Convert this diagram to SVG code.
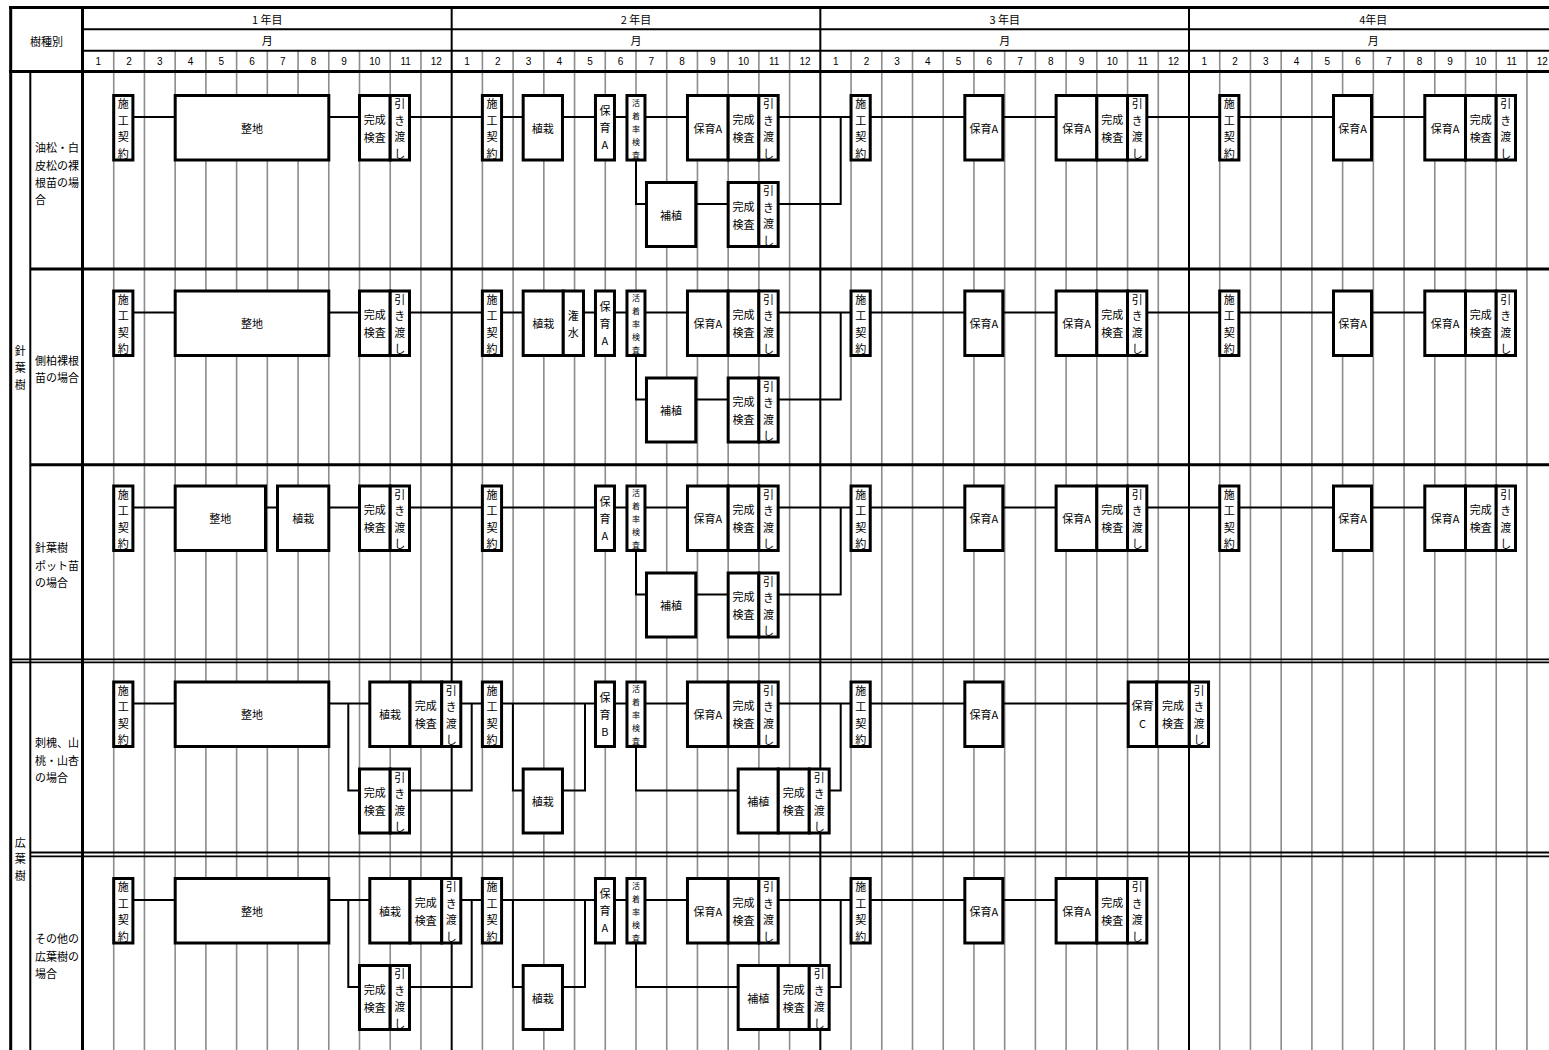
<svg xmlns="http://www.w3.org/2000/svg" width="1549" height="1050" viewBox="0 0 1549 1050">
<style>
.g{fill:none;stroke:#8c8c8c;stroke-width:1.6}
.k{fill:none;stroke:#000}
.b{fill:#fff;stroke:#000;stroke-width:3}
.c path{fill:none;stroke:#000;stroke-width:2}
text{font-family:"Noto Sans CJK JP","Noto Sans CJK SC",sans-serif;font-size:11px;fill:#000;text-anchor:middle;dominant-baseline:central}
.n{font-family:"Liberation Sans",Arial,sans-serif;font-size:10px}
.s{font-size:8px}
.l{text-anchor:start}
</style>
<rect width="1549" height="1050" fill="#fff"/>
<g id="grid">
<path class="g" d="M113.72 51V1050M144.44 51V1050M175.17 51V1050M205.89 51V1050M236.61 51V1050M267.33 51V1050M298.06 51V1050M328.78 51V1050M359.5 51V1050M390.22 51V1050M420.94 51V1050M482.39 51V1050M513.11 51V1050M543.84 51V1050M574.56 51V1050M605.28 51V1050M636 51V1050M666.73 51V1050M697.45 51V1050M728.17 51V1050M758.89 51V1050M789.61 51V1050M851.06 51V1050M881.78 51V1050M912.51 51V1050M943.23 51V1050M973.95 51V1050M1004.67 51V1050M1035.4 51V1050M1066.12 51V1050M1096.84 51V1050M1127.56 51V1050M1158.28 51V1050M1219.73 51V1050M1250.45 51V1050M1281.18 51V1050M1311.9 51V1050M1342.62 51V1050M1373.34 51V1050M1404.07 51V1050M1434.79 51V1050M1465.51 51V1050M1496.23 51V1050M1526.95 51V1050"/>
<path class="k" stroke-width="2" d="M451.67 7V1050M820.33 7V1050M1189 7V1050"/>
</g>
<g id="table">
<path class="k" stroke-width="3" d="M9 7.5H1549M10.7 6V1050M82.5 6V1050M9 71.5H1549M30 269H1549M30 464.8H1549"/>
<path class="k" stroke-width="2" d="M83 29.3H1549M83 50.7H1549M30.3 71.5V1050"/>
<path class="k" stroke-width="1.8" d="M10 659.3H1549M10 662.3H1549M30 852.5H1549M30 856.3H1549"/>
</g>
<g id="header">
<text x="46.5" y="41">樹種別</text>
<text x="267.3" y="18.5">1 年目</text>
<text x="636" y="18.5">2 年目</text>
<text x="1004.7" y="18.5">3 年目</text>
<text x="1373.3" y="18.5">4年目</text>
<text x="267.3" y="40">月</text>
<text x="636" y="40">月</text>
<text x="1004.7" y="40">月</text>
<text x="1373.3" y="40">月</text>
<g class="n">
<text class="n" x="98.36" y="61">1</text><text class="n" x="129.08" y="61">2</text><text class="n" x="159.81" y="61">3</text><text class="n" x="190.53" y="61">4</text><text class="n" x="221.25" y="61">5</text><text class="n" x="251.97" y="61">6</text><text class="n" x="282.69" y="61">7</text><text class="n" x="313.42" y="61">8</text><text class="n" x="344.14" y="61">9</text><text class="n" x="374.86" y="61">10</text><text class="n" x="405.58" y="61">11</text><text class="n" x="436.31" y="61">12</text>
<text class="n" x="467.03" y="61">1</text><text class="n" x="497.75" y="61">2</text><text class="n" x="528.47" y="61">3</text><text class="n" x="559.19" y="61">4</text><text class="n" x="589.92" y="61">5</text><text class="n" x="620.64" y="61">6</text><text class="n" x="651.36" y="61">7</text><text class="n" x="682.08" y="61">8</text><text class="n" x="712.81" y="61">9</text><text class="n" x="743.53" y="61">10</text><text class="n" x="774.25" y="61">11</text><text class="n" x="804.97" y="61">12</text>
<text class="n" x="835.69" y="61">1</text><text class="n" x="866.42" y="61">2</text><text class="n" x="897.14" y="61">3</text><text class="n" x="927.86" y="61">4</text><text class="n" x="958.58" y="61">5</text><text class="n" x="989.31" y="61">6</text><text class="n" x="1020.03" y="61">7</text><text class="n" x="1050.75" y="61">8</text><text class="n" x="1081.47" y="61">9</text><text class="n" x="1112.19" y="61">10</text><text class="n" x="1142.92" y="61">11</text><text class="n" x="1173.64" y="61">12</text>
<text class="n" x="1204.36" y="61">1</text><text class="n" x="1235.08" y="61">2</text><text class="n" x="1265.81" y="61">3</text><text class="n" x="1296.53" y="61">4</text><text class="n" x="1327.25" y="61">5</text><text class="n" x="1357.97" y="61">6</text><text class="n" x="1388.69" y="61">7</text><text class="n" x="1419.42" y="61">8</text><text class="n" x="1450.14" y="61">9</text><text class="n" x="1480.86" y="61">10</text><text class="n" x="1511.58" y="61">11</text><text class="n" x="1542.31" y="61">12</text>
</g>
</g>
<g id="row-labels">
<text><tspan x="20.3" y="349.5">針</tspan><tspan x="20.3" y="366.5">葉</tspan><tspan x="20.3" y="383.5">樹</tspan></text>
<text><tspan x="20.3" y="841.5">広</tspan><tspan x="20.3" y="858.3">葉</tspan><tspan x="20.3" y="875">樹</tspan></text>
<text class="l"><tspan x="35" y="147">油松・白</tspan><tspan x="35" y="164.5">皮松の裸</tspan><tspan x="35" y="182">根苗の場</tspan><tspan x="35" y="199">合</tspan></text>
<text class="l"><tspan x="35" y="360">側柏裸根</tspan><tspan x="35" y="377.3">苗の場合</tspan></text>
<text class="l"><tspan x="35" y="547.3">針葉樹</tspan><tspan x="35" y="564.7">ポット苗</tspan><tspan x="35" y="582">の場合</tspan></text>
<text class="l"><tspan x="35" y="741.7">刺槐、山</tspan><tspan x="35" y="759.5">桃・山杏</tspan><tspan x="35" y="776.5">の場合</tspan></text>
<text class="l"><tspan x="35" y="938.3">その他の</tspan><tspan x="35" y="955.5">広葉樹の</tspan><tspan x="35" y="972.5">場合</tspan></text>
</g>
<g id="connectors" class="c">
<path d="M133 117H1514"/>
<path d="M636 160V204H840.7V117"/>
<path d="M133 312.5H1514"/>
<path d="M636 355.5V399.5H840.7V312.5"/>
<path d="M133 507.5H1514"/>
<path d="M636 550.5V594.5H840.7V507.5"/>
<path d="M133 703.5H1130"/>
<path d="M348.3 703.5V790.5H471.7V703.5"/>
<path d="M512.9 703.5V790.5H585V703.5"/>
<path d="M636 746.5V790.5H840.7V703.5"/>
<path d="M133 900H1145"/>
<path d="M348.3 900V987H471.7V900"/>
<path d="M512.9 900V987H585V900"/>
<path d="M636 943V987H840.7V900"/>
</g>

<g id="row1" transform="translate(0,117)">
<g transform="translate(83,0)">
<g id="r1-y1-sekou"><rect class="b" x="30.7" y="-21.5" width="19.2" height="64.5"/><text><tspan x="40.3" y="-14">施</tspan><tspan x="40.3" y="2.5">工</tspan><tspan x="40.3" y="19">契</tspan><tspan x="40.3" y="35.5">約</tspan></text></g>
<g id="r1-y1-seichi"><rect class="b" x="92.2" y="-21.5" width="153.6" height="64.5"/><text x="169" y="10.75">整地</text></g>
<g id="r1-y1-kensa"><rect class="b" x="276.5" y="-21.5" width="30.7" height="64.5"/><text><tspan x="291.85" y="1.75">完成</tspan><tspan x="291.85" y="19.75">検査</tspan></text></g>
<g id="r1-y1-hiki"><rect class="b" x="307.2" y="-21.5" width="19.3" height="64.5"/><text><tspan x="316.85" y="-14">引</tspan><tspan x="316.85" y="2.5">き</tspan><tspan x="316.85" y="19">渡</tspan><tspan x="316.85" y="35.5">し</tspan></text></g>
</g>
<g transform="translate(451.67,0)">
<g id="r1-y2-sekou"><rect class="b" x="30.7" y="-21.5" width="19.2" height="64.5"/><text><tspan x="40.3" y="-14">施</tspan><tspan x="40.3" y="2.5">工</tspan><tspan x="40.3" y="19">契</tspan><tspan x="40.3" y="35.5">約</tspan></text></g>
<g id="r1-y2-shokusai"><rect class="b" x="71.5" y="-21.5" width="39.3" height="64.5"/><text x="91.15" y="10.75">植栽</text></g>
<g id="r1-y2-hoiku1"><rect class="b" x="143.8" y="-21.5" width="19" height="64.5"/><text><tspan x="153.3" y="-7">保</tspan><tspan x="153.3" y="10">育</tspan><tspan x="153.3" y="27">A</tspan></text></g>
<g id="r1-y2-katchaku"><rect class="b" x="175.3" y="-21.5" width="18" height="64.5"/><text class="s"><tspan x="184.3" y="-15.25">活</tspan><tspan x="184.3" y="-2.25">着</tspan><tspan x="184.3" y="10.75">率</tspan><tspan x="184.3" y="23.75">検</tspan><tspan x="184.3" y="36.75">査</tspan></text></g>
<g id="r1-y2-hoiku2"><rect class="b" x="235.8" y="-21.5" width="40.7" height="64.5"/><text x="256.15" y="10.75">保育A</text></g>
<g id="r1-y2-kensa"><rect class="b" x="276.5" y="-21.5" width="30.7" height="64.5"/><text><tspan x="291.85" y="1.75">完成</tspan><tspan x="291.85" y="19.75">検査</tspan></text></g>
<g id="r1-y2-hiki"><rect class="b" x="307.2" y="-21.5" width="19.3" height="64.5"/><text><tspan x="316.85" y="-14">引</tspan><tspan x="316.85" y="2.5">き</tspan><tspan x="316.85" y="19">渡</tspan><tspan x="316.85" y="35.5">し</tspan></text></g>
<g id="r1-y2-hoshoku"><rect class="b" x="194.8" y="65.5" width="49.3" height="64"/><text x="219.45" y="97.5">補植</text></g>
<g id="r1-y2-kensa2"><rect class="b" x="276.5" y="65.5" width="30.7" height="64"/><text><tspan x="291.85" y="88.5">完成</tspan><tspan x="291.85" y="106.5">検査</tspan></text></g>
<g id="r1-y2-hiki2"><rect class="b" x="307.2" y="65.5" width="19.3" height="64"/><text><tspan x="316.85" y="73">引</tspan><tspan x="316.85" y="89.5">き</tspan><tspan x="316.85" y="106">渡</tspan><tspan x="316.85" y="122.5">し</tspan></text></g>
</g>
<g transform="translate(820.33,0)">
<g id="r1-y3-sekou"><rect class="b" x="30.7" y="-21.5" width="19.2" height="64.5"/><text><tspan x="40.3" y="-14">施</tspan><tspan x="40.3" y="2.5">工</tspan><tspan x="40.3" y="19">契</tspan><tspan x="40.3" y="35.5">約</tspan></text></g>
<g id="r1-y3-hoiku1"><rect class="b" x="144.5" y="-21.5" width="38" height="64.5"/><text x="163.5" y="10.75">保育A</text></g>
<g id="r1-y3-hoiku2"><rect class="b" x="235.8" y="-21.5" width="40.7" height="64.5"/><text x="256.15" y="10.75">保育A</text></g>
<g id="r1-y3-kensa"><rect class="b" x="276.5" y="-21.5" width="30.7" height="64.5"/><text><tspan x="291.85" y="1.75">完成</tspan><tspan x="291.85" y="19.75">検査</tspan></text></g>
<g id="r1-y3-hiki"><rect class="b" x="307.2" y="-21.5" width="19.3" height="64.5"/><text><tspan x="316.85" y="-14">引</tspan><tspan x="316.85" y="2.5">き</tspan><tspan x="316.85" y="19">渡</tspan><tspan x="316.85" y="35.5">し</tspan></text></g>
</g>
<g transform="translate(1189,0)">
<g id="r1-y4-sekou"><rect class="b" x="30.7" y="-21.5" width="19.2" height="64.5"/><text><tspan x="40.3" y="-14">施</tspan><tspan x="40.3" y="2.5">工</tspan><tspan x="40.3" y="19">契</tspan><tspan x="40.3" y="35.5">約</tspan></text></g>
<g id="r1-y4-hoiku1"><rect class="b" x="144.5" y="-21.5" width="38" height="64.5"/><text x="163.5" y="10.75">保育A</text></g>
<g id="r1-y4-hoiku2"><rect class="b" x="235.8" y="-21.5" width="40.7" height="64.5"/><text x="256.15" y="10.75">保育A</text></g>
<g id="r1-y4-kensa"><rect class="b" x="276.5" y="-21.5" width="30.7" height="64.5"/><text><tspan x="291.85" y="1.75">完成</tspan><tspan x="291.85" y="19.75">検査</tspan></text></g>
<g id="r1-y4-hiki"><rect class="b" x="307.2" y="-21.5" width="19.3" height="64.5"/><text><tspan x="316.85" y="-14">引</tspan><tspan x="316.85" y="2.5">き</tspan><tspan x="316.85" y="19">渡</tspan><tspan x="316.85" y="35.5">し</tspan></text></g>
</g>
</g>

<g id="row2" transform="translate(0,312.5)">
<g transform="translate(83,0)">
<g id="r2-y1-sekou"><rect class="b" x="30.7" y="-21.5" width="19.2" height="64.5"/><text><tspan x="40.3" y="-14">施</tspan><tspan x="40.3" y="2.5">工</tspan><tspan x="40.3" y="19">契</tspan><tspan x="40.3" y="35.5">約</tspan></text></g>
<g id="r2-y1-seichi"><rect class="b" x="92.2" y="-21.5" width="153.6" height="64.5"/><text x="169" y="10.75">整地</text></g>
<g id="r2-y1-kensa"><rect class="b" x="276.5" y="-21.5" width="30.7" height="64.5"/><text><tspan x="291.85" y="1.75">完成</tspan><tspan x="291.85" y="19.75">検査</tspan></text></g>
<g id="r2-y1-hiki"><rect class="b" x="307.2" y="-21.5" width="19.3" height="64.5"/><text><tspan x="316.85" y="-14">引</tspan><tspan x="316.85" y="2.5">き</tspan><tspan x="316.85" y="19">渡</tspan><tspan x="316.85" y="35.5">し</tspan></text></g>
</g>
<g transform="translate(451.67,0)">
<g id="r2-y2-sekou"><rect class="b" x="30.7" y="-21.5" width="19.2" height="64.5"/><text><tspan x="40.3" y="-14">施</tspan><tspan x="40.3" y="2.5">工</tspan><tspan x="40.3" y="19">契</tspan><tspan x="40.3" y="35.5">約</tspan></text></g>
<g id="r2-y2-shokusai"><rect class="b" x="71.5" y="-21.5" width="40.1" height="64.5"/><text x="91.55" y="10.75">植栽</text></g>
<g id="r2-y2-kansui"><rect class="b" x="111.6" y="-21.5" width="20.2" height="64.5"/><text><tspan x="121.7" y="2.5">潅</tspan><tspan x="121.7" y="19.5">水</tspan></text></g>
<g id="r2-y2-hoiku1"><rect class="b" x="143.8" y="-21.5" width="19" height="64.5"/><text><tspan x="153.3" y="-7">保</tspan><tspan x="153.3" y="10">育</tspan><tspan x="153.3" y="27">A</tspan></text></g>
<g id="r2-y2-katchaku"><rect class="b" x="175.3" y="-21.5" width="18" height="64.5"/><text class="s"><tspan x="184.3" y="-15.25">活</tspan><tspan x="184.3" y="-2.25">着</tspan><tspan x="184.3" y="10.75">率</tspan><tspan x="184.3" y="23.75">検</tspan><tspan x="184.3" y="36.75">査</tspan></text></g>
<g id="r2-y2-hoiku2"><rect class="b" x="235.8" y="-21.5" width="40.7" height="64.5"/><text x="256.15" y="10.75">保育A</text></g>
<g id="r2-y2-kensa"><rect class="b" x="276.5" y="-21.5" width="30.7" height="64.5"/><text><tspan x="291.85" y="1.75">完成</tspan><tspan x="291.85" y="19.75">検査</tspan></text></g>
<g id="r2-y2-hiki"><rect class="b" x="307.2" y="-21.5" width="19.3" height="64.5"/><text><tspan x="316.85" y="-14">引</tspan><tspan x="316.85" y="2.5">き</tspan><tspan x="316.85" y="19">渡</tspan><tspan x="316.85" y="35.5">し</tspan></text></g>
<g id="r2-y2-hoshoku"><rect class="b" x="194.8" y="65.5" width="49.3" height="64"/><text x="219.45" y="97.5">補植</text></g>
<g id="r2-y2-kensa2"><rect class="b" x="276.5" y="65.5" width="30.7" height="64"/><text><tspan x="291.85" y="88.5">完成</tspan><tspan x="291.85" y="106.5">検査</tspan></text></g>
<g id="r2-y2-hiki2"><rect class="b" x="307.2" y="65.5" width="19.3" height="64"/><text><tspan x="316.85" y="73">引</tspan><tspan x="316.85" y="89.5">き</tspan><tspan x="316.85" y="106">渡</tspan><tspan x="316.85" y="122.5">し</tspan></text></g>
</g>
<g transform="translate(820.33,0)">
<g id="r2-y3-sekou"><rect class="b" x="30.7" y="-21.5" width="19.2" height="64.5"/><text><tspan x="40.3" y="-14">施</tspan><tspan x="40.3" y="2.5">工</tspan><tspan x="40.3" y="19">契</tspan><tspan x="40.3" y="35.5">約</tspan></text></g>
<g id="r2-y3-hoiku1"><rect class="b" x="144.5" y="-21.5" width="38" height="64.5"/><text x="163.5" y="10.75">保育A</text></g>
<g id="r2-y3-hoiku2"><rect class="b" x="235.8" y="-21.5" width="40.7" height="64.5"/><text x="256.15" y="10.75">保育A</text></g>
<g id="r2-y3-kensa"><rect class="b" x="276.5" y="-21.5" width="30.7" height="64.5"/><text><tspan x="291.85" y="1.75">完成</tspan><tspan x="291.85" y="19.75">検査</tspan></text></g>
<g id="r2-y3-hiki"><rect class="b" x="307.2" y="-21.5" width="19.3" height="64.5"/><text><tspan x="316.85" y="-14">引</tspan><tspan x="316.85" y="2.5">き</tspan><tspan x="316.85" y="19">渡</tspan><tspan x="316.85" y="35.5">し</tspan></text></g>
</g>
<g transform="translate(1189,0)">
<g id="r2-y4-sekou"><rect class="b" x="30.7" y="-21.5" width="19.2" height="64.5"/><text><tspan x="40.3" y="-14">施</tspan><tspan x="40.3" y="2.5">工</tspan><tspan x="40.3" y="19">契</tspan><tspan x="40.3" y="35.5">約</tspan></text></g>
<g id="r2-y4-hoiku1"><rect class="b" x="144.5" y="-21.5" width="38" height="64.5"/><text x="163.5" y="10.75">保育A</text></g>
<g id="r2-y4-hoiku2"><rect class="b" x="235.8" y="-21.5" width="40.7" height="64.5"/><text x="256.15" y="10.75">保育A</text></g>
<g id="r2-y4-kensa"><rect class="b" x="276.5" y="-21.5" width="30.7" height="64.5"/><text><tspan x="291.85" y="1.75">完成</tspan><tspan x="291.85" y="19.75">検査</tspan></text></g>
<g id="r2-y4-hiki"><rect class="b" x="307.2" y="-21.5" width="19.3" height="64.5"/><text><tspan x="316.85" y="-14">引</tspan><tspan x="316.85" y="2.5">き</tspan><tspan x="316.85" y="19">渡</tspan><tspan x="316.85" y="35.5">し</tspan></text></g>
</g>
</g>

<g id="row3" transform="translate(0,507.5)">
<g transform="translate(83,0)">
<g id="r3-y1-sekou"><rect class="b" x="30.7" y="-21.5" width="19.2" height="64.5"/><text><tspan x="40.3" y="-14">施</tspan><tspan x="40.3" y="2.5">工</tspan><tspan x="40.3" y="19">契</tspan><tspan x="40.3" y="35.5">約</tspan></text></g>
<g id="r3-y1-seichi"><rect class="b" x="92.2" y="-21.5" width="90.3" height="64.5"/><text x="137.35" y="10.75">整地</text></g>
<g id="r3-y1-shokusai"><rect class="b" x="194.5" y="-21.5" width="51.3" height="64.5"/><text x="220.15" y="10.75">植栽</text></g>
<g id="r3-y1-kensa"><rect class="b" x="276.5" y="-21.5" width="30.7" height="64.5"/><text><tspan x="291.85" y="1.75">完成</tspan><tspan x="291.85" y="19.75">検査</tspan></text></g>
<g id="r3-y1-hiki"><rect class="b" x="307.2" y="-21.5" width="19.3" height="64.5"/><text><tspan x="316.85" y="-14">引</tspan><tspan x="316.85" y="2.5">き</tspan><tspan x="316.85" y="19">渡</tspan><tspan x="316.85" y="35.5">し</tspan></text></g>
</g>
<g transform="translate(451.67,0)">
<g id="r3-y2-sekou"><rect class="b" x="30.7" y="-21.5" width="19.2" height="64.5"/><text><tspan x="40.3" y="-14">施</tspan><tspan x="40.3" y="2.5">工</tspan><tspan x="40.3" y="19">契</tspan><tspan x="40.3" y="35.5">約</tspan></text></g>
<g id="r3-y2-hoiku1"><rect class="b" x="143.8" y="-21.5" width="19" height="64.5"/><text><tspan x="153.3" y="-7">保</tspan><tspan x="153.3" y="10">育</tspan><tspan x="153.3" y="27">A</tspan></text></g>
<g id="r3-y2-katchaku"><rect class="b" x="175.3" y="-21.5" width="18" height="64.5"/><text class="s"><tspan x="184.3" y="-15.25">活</tspan><tspan x="184.3" y="-2.25">着</tspan><tspan x="184.3" y="10.75">率</tspan><tspan x="184.3" y="23.75">検</tspan><tspan x="184.3" y="36.75">査</tspan></text></g>
<g id="r3-y2-hoiku2"><rect class="b" x="235.8" y="-21.5" width="40.7" height="64.5"/><text x="256.15" y="10.75">保育A</text></g>
<g id="r3-y2-kensa"><rect class="b" x="276.5" y="-21.5" width="30.7" height="64.5"/><text><tspan x="291.85" y="1.75">完成</tspan><tspan x="291.85" y="19.75">検査</tspan></text></g>
<g id="r3-y2-hiki"><rect class="b" x="307.2" y="-21.5" width="19.3" height="64.5"/><text><tspan x="316.85" y="-14">引</tspan><tspan x="316.85" y="2.5">き</tspan><tspan x="316.85" y="19">渡</tspan><tspan x="316.85" y="35.5">し</tspan></text></g>
<g id="r3-y2-hoshoku"><rect class="b" x="194.8" y="65.5" width="49.3" height="64"/><text x="219.45" y="97.5">補植</text></g>
<g id="r3-y2-kensa2"><rect class="b" x="276.5" y="65.5" width="30.7" height="64"/><text><tspan x="291.85" y="88.5">完成</tspan><tspan x="291.85" y="106.5">検査</tspan></text></g>
<g id="r3-y2-hiki2"><rect class="b" x="307.2" y="65.5" width="19.3" height="64"/><text><tspan x="316.85" y="73">引</tspan><tspan x="316.85" y="89.5">き</tspan><tspan x="316.85" y="106">渡</tspan><tspan x="316.85" y="122.5">し</tspan></text></g>
</g>
<g transform="translate(820.33,0)">
<g id="r3-y3-sekou"><rect class="b" x="30.7" y="-21.5" width="19.2" height="64.5"/><text><tspan x="40.3" y="-14">施</tspan><tspan x="40.3" y="2.5">工</tspan><tspan x="40.3" y="19">契</tspan><tspan x="40.3" y="35.5">約</tspan></text></g>
<g id="r3-y3-hoiku1"><rect class="b" x="144.5" y="-21.5" width="38" height="64.5"/><text x="163.5" y="10.75">保育A</text></g>
<g id="r3-y3-hoiku2"><rect class="b" x="235.8" y="-21.5" width="40.7" height="64.5"/><text x="256.15" y="10.75">保育A</text></g>
<g id="r3-y3-kensa"><rect class="b" x="276.5" y="-21.5" width="30.7" height="64.5"/><text><tspan x="291.85" y="1.75">完成</tspan><tspan x="291.85" y="19.75">検査</tspan></text></g>
<g id="r3-y3-hiki"><rect class="b" x="307.2" y="-21.5" width="19.3" height="64.5"/><text><tspan x="316.85" y="-14">引</tspan><tspan x="316.85" y="2.5">き</tspan><tspan x="316.85" y="19">渡</tspan><tspan x="316.85" y="35.5">し</tspan></text></g>
</g>
<g transform="translate(1189,0)">
<g id="r3-y4-sekou"><rect class="b" x="30.7" y="-21.5" width="19.2" height="64.5"/><text><tspan x="40.3" y="-14">施</tspan><tspan x="40.3" y="2.5">工</tspan><tspan x="40.3" y="19">契</tspan><tspan x="40.3" y="35.5">約</tspan></text></g>
<g id="r3-y4-hoiku1"><rect class="b" x="144.5" y="-21.5" width="38" height="64.5"/><text x="163.5" y="10.75">保育A</text></g>
<g id="r3-y4-hoiku2"><rect class="b" x="235.8" y="-21.5" width="40.7" height="64.5"/><text x="256.15" y="10.75">保育A</text></g>
<g id="r3-y4-kensa"><rect class="b" x="276.5" y="-21.5" width="30.7" height="64.5"/><text><tspan x="291.85" y="1.75">完成</tspan><tspan x="291.85" y="19.75">検査</tspan></text></g>
<g id="r3-y4-hiki"><rect class="b" x="307.2" y="-21.5" width="19.3" height="64.5"/><text><tspan x="316.85" y="-14">引</tspan><tspan x="316.85" y="2.5">き</tspan><tspan x="316.85" y="19">渡</tspan><tspan x="316.85" y="35.5">し</tspan></text></g>
</g>
</g>

<g id="row4" transform="translate(0,703.5)">
<g transform="translate(83,0)">
<g id="r4-y1-sekou"><rect class="b" x="30.7" y="-21.5" width="19.2" height="64.5"/><text><tspan x="40.3" y="-14">施</tspan><tspan x="40.3" y="2.5">工</tspan><tspan x="40.3" y="19">契</tspan><tspan x="40.3" y="35.5">約</tspan></text></g>
<g id="r4-y1-seichi"><rect class="b" x="92.2" y="-21.5" width="153.6" height="64.5"/><text x="169" y="10.75">整地</text></g>
<g id="r4-y1-shokusai"><rect class="b" x="286.8" y="-21.5" width="40.2" height="64.5"/><text x="306.9" y="10.75">植栽</text></g>
<g id="r4-y1-kensa"><rect class="b" x="327" y="-21.5" width="31.7" height="64.5"/><text><tspan x="342.85" y="1.75">完成</tspan><tspan x="342.85" y="19.75">検査</tspan></text></g>
<g id="r4-y1-hiki"><rect class="b" x="358.7" y="-21.5" width="19.1" height="64.5"/><text><tspan x="368.25" y="-14">引</tspan><tspan x="368.25" y="2.5">き</tspan><tspan x="368.25" y="19">渡</tspan><tspan x="368.25" y="35.5">し</tspan></text></g>
<g id="r4-y1-kensa2"><rect class="b" x="276.5" y="65.5" width="30.7" height="64"/><text><tspan x="291.85" y="88.5">完成</tspan><tspan x="291.85" y="106.5">検査</tspan></text></g>
<g id="r4-y1-hiki2"><rect class="b" x="307.2" y="65.5" width="19.3" height="64"/><text><tspan x="316.85" y="73">引</tspan><tspan x="316.85" y="89.5">き</tspan><tspan x="316.85" y="106">渡</tspan><tspan x="316.85" y="122.5">し</tspan></text></g>
</g>
<g transform="translate(451.67,0)">
<g id="r4-y2-sekou"><rect class="b" x="30.7" y="-21.5" width="19.2" height="64.5"/><text><tspan x="40.3" y="-14">施</tspan><tspan x="40.3" y="2.5">工</tspan><tspan x="40.3" y="19">契</tspan><tspan x="40.3" y="35.5">約</tspan></text></g>
<g id="r4-y2-shokusai"><rect class="b" x="71.5" y="65.5" width="39.3" height="64"/><text x="91.15" y="97.5">植栽</text></g>
<g id="r4-y2-hoiku1"><rect class="b" x="143.8" y="-21.5" width="19" height="64.5"/><text><tspan x="153.3" y="-7">保</tspan><tspan x="153.3" y="10">育</tspan><tspan x="153.3" y="27">B</tspan></text></g>
<g id="r4-y2-katchaku"><rect class="b" x="175.3" y="-21.5" width="18" height="64.5"/><text class="s"><tspan x="184.3" y="-15.25">活</tspan><tspan x="184.3" y="-2.25">着</tspan><tspan x="184.3" y="10.75">率</tspan><tspan x="184.3" y="23.75">検</tspan><tspan x="184.3" y="36.75">査</tspan></text></g>
<g id="r4-y2-hoiku2"><rect class="b" x="235.8" y="-21.5" width="40.7" height="64.5"/><text x="256.15" y="10.75">保育A</text></g>
<g id="r4-y2-kensa"><rect class="b" x="276.5" y="-21.5" width="30.7" height="64.5"/><text><tspan x="291.85" y="1.75">完成</tspan><tspan x="291.85" y="19.75">検査</tspan></text></g>
<g id="r4-y2-hiki"><rect class="b" x="307.2" y="-21.5" width="19.3" height="64.5"/><text><tspan x="316.85" y="-14">引</tspan><tspan x="316.85" y="2.5">き</tspan><tspan x="316.85" y="19">渡</tspan><tspan x="316.85" y="35.5">し</tspan></text></g>
<g id="r4-y2-hoshoku"><rect class="b" x="286.5" y="65.5" width="40.1" height="64"/><text x="306.55" y="97.5">補植</text></g>
<g id="r4-y2-kensa2"><rect class="b" x="326.6" y="65.5" width="31" height="64"/><text><tspan x="342.1" y="88.5">完成</tspan><tspan x="342.1" y="106.5">検査</tspan></text></g>
<g id="r4-y2-hiki2"><rect class="b" x="357.6" y="65.5" width="19.9" height="64"/><text><tspan x="367.55" y="73">引</tspan><tspan x="367.55" y="89.5">き</tspan><tspan x="367.55" y="106">渡</tspan><tspan x="367.55" y="122.5">し</tspan></text></g>
</g>
<g transform="translate(820.33,0)">
<g id="r4-y3-sekou"><rect class="b" x="30.7" y="-21.5" width="19.2" height="64.5"/><text><tspan x="40.3" y="-14">施</tspan><tspan x="40.3" y="2.5">工</tspan><tspan x="40.3" y="19">契</tspan><tspan x="40.3" y="35.5">約</tspan></text></g>
<g id="r4-y3-hoiku1"><rect class="b" x="144.5" y="-21.5" width="38" height="64.5"/><text x="163.5" y="10.75">保育A</text></g>
<g id="r4-y3-hoikuC"><rect class="b" x="307.9" y="-21.5" width="28.5" height="64.5"/><text><tspan x="322.15" y="1.75">保育</tspan><tspan x="322.15" y="19.75">C</tspan></text></g>
<g id="r4-y3-kensa"><rect class="b" x="336.4" y="-21.5" width="32.6" height="64.5"/><text><tspan x="352.7" y="1.75">完成</tspan><tspan x="352.7" y="19.75">検査</tspan></text></g>
<g id="r4-y3-hiki"><rect class="b" x="369" y="-21.5" width="19.2" height="64.5"/><text><tspan x="378.6" y="-14">引</tspan><tspan x="378.6" y="2.5">き</tspan><tspan x="378.6" y="19">渡</tspan><tspan x="378.6" y="35.5">し</tspan></text></g>
</g>
</g>

<g id="row5" transform="translate(0,900)">
<g transform="translate(83,0)">
<g id="r5-y1-sekou"><rect class="b" x="30.7" y="-21.5" width="19.2" height="64.5"/><text><tspan x="40.3" y="-14">施</tspan><tspan x="40.3" y="2.5">工</tspan><tspan x="40.3" y="19">契</tspan><tspan x="40.3" y="35.5">約</tspan></text></g>
<g id="r5-y1-seichi"><rect class="b" x="92.2" y="-21.5" width="153.6" height="64.5"/><text x="169" y="10.75">整地</text></g>
<g id="r5-y1-shokusai"><rect class="b" x="286.8" y="-21.5" width="40.2" height="64.5"/><text x="306.9" y="10.75">植栽</text></g>
<g id="r5-y1-kensa"><rect class="b" x="327" y="-21.5" width="31.7" height="64.5"/><text><tspan x="342.85" y="1.75">完成</tspan><tspan x="342.85" y="19.75">検査</tspan></text></g>
<g id="r5-y1-hiki"><rect class="b" x="358.7" y="-21.5" width="19.1" height="64.5"/><text><tspan x="368.25" y="-14">引</tspan><tspan x="368.25" y="2.5">き</tspan><tspan x="368.25" y="19">渡</tspan><tspan x="368.25" y="35.5">し</tspan></text></g>
<g id="r5-y1-kensa2"><rect class="b" x="276.5" y="65.5" width="30.7" height="64"/><text><tspan x="291.85" y="88.5">完成</tspan><tspan x="291.85" y="106.5">検査</tspan></text></g>
<g id="r5-y1-hiki2"><rect class="b" x="307.2" y="65.5" width="19.3" height="64"/><text><tspan x="316.85" y="73">引</tspan><tspan x="316.85" y="89.5">き</tspan><tspan x="316.85" y="106">渡</tspan><tspan x="316.85" y="122.5">し</tspan></text></g>
</g>
<g transform="translate(451.67,0)">
<g id="r5-y2-sekou"><rect class="b" x="30.7" y="-21.5" width="19.2" height="64.5"/><text><tspan x="40.3" y="-14">施</tspan><tspan x="40.3" y="2.5">工</tspan><tspan x="40.3" y="19">契</tspan><tspan x="40.3" y="35.5">約</tspan></text></g>
<g id="r5-y2-shokusai"><rect class="b" x="71.5" y="65.5" width="39.3" height="64"/><text x="91.15" y="97.5">植栽</text></g>
<g id="r5-y2-hoiku1"><rect class="b" x="143.8" y="-21.5" width="19" height="64.5"/><text><tspan x="153.3" y="-7">保</tspan><tspan x="153.3" y="10">育</tspan><tspan x="153.3" y="27">A</tspan></text></g>
<g id="r5-y2-katchaku"><rect class="b" x="175.3" y="-21.5" width="18" height="64.5"/><text class="s"><tspan x="184.3" y="-15.25">活</tspan><tspan x="184.3" y="-2.25">着</tspan><tspan x="184.3" y="10.75">率</tspan><tspan x="184.3" y="23.75">検</tspan><tspan x="184.3" y="36.75">査</tspan></text></g>
<g id="r5-y2-hoiku2"><rect class="b" x="235.8" y="-21.5" width="40.7" height="64.5"/><text x="256.15" y="10.75">保育A</text></g>
<g id="r5-y2-kensa"><rect class="b" x="276.5" y="-21.5" width="30.7" height="64.5"/><text><tspan x="291.85" y="1.75">完成</tspan><tspan x="291.85" y="19.75">検査</tspan></text></g>
<g id="r5-y2-hiki"><rect class="b" x="307.2" y="-21.5" width="19.3" height="64.5"/><text><tspan x="316.85" y="-14">引</tspan><tspan x="316.85" y="2.5">き</tspan><tspan x="316.85" y="19">渡</tspan><tspan x="316.85" y="35.5">し</tspan></text></g>
<g id="r5-y2-hoshoku"><rect class="b" x="286.5" y="65.5" width="40.1" height="64"/><text x="306.55" y="97.5">補植</text></g>
<g id="r5-y2-kensa2"><rect class="b" x="326.6" y="65.5" width="31" height="64"/><text><tspan x="342.1" y="88.5">完成</tspan><tspan x="342.1" y="106.5">検査</tspan></text></g>
<g id="r5-y2-hiki2"><rect class="b" x="357.6" y="65.5" width="19.9" height="64"/><text><tspan x="367.55" y="73">引</tspan><tspan x="367.55" y="89.5">き</tspan><tspan x="367.55" y="106">渡</tspan><tspan x="367.55" y="122.5">し</tspan></text></g>
</g>
<g transform="translate(820.33,0)">
<g id="r5-y3-sekou"><rect class="b" x="30.7" y="-21.5" width="19.2" height="64.5"/><text><tspan x="40.3" y="-14">施</tspan><tspan x="40.3" y="2.5">工</tspan><tspan x="40.3" y="19">契</tspan><tspan x="40.3" y="35.5">約</tspan></text></g>
<g id="r5-y3-hoiku1"><rect class="b" x="144.5" y="-21.5" width="38" height="64.5"/><text x="163.5" y="10.75">保育A</text></g>
<g id="r5-y3-hoiku2"><rect class="b" x="235.8" y="-21.5" width="40.7" height="64.5"/><text x="256.15" y="10.75">保育A</text></g>
<g id="r5-y3-kensa"><rect class="b" x="276.5" y="-21.5" width="30.7" height="64.5"/><text><tspan x="291.85" y="1.75">完成</tspan><tspan x="291.85" y="19.75">検査</tspan></text></g>
<g id="r5-y3-hiki"><rect class="b" x="307.2" y="-21.5" width="19.3" height="64.5"/><text><tspan x="316.85" y="-14">引</tspan><tspan x="316.85" y="2.5">き</tspan><tspan x="316.85" y="19">渡</tspan><tspan x="316.85" y="35.5">し</tspan></text></g>
</g>
</g>
</svg>
